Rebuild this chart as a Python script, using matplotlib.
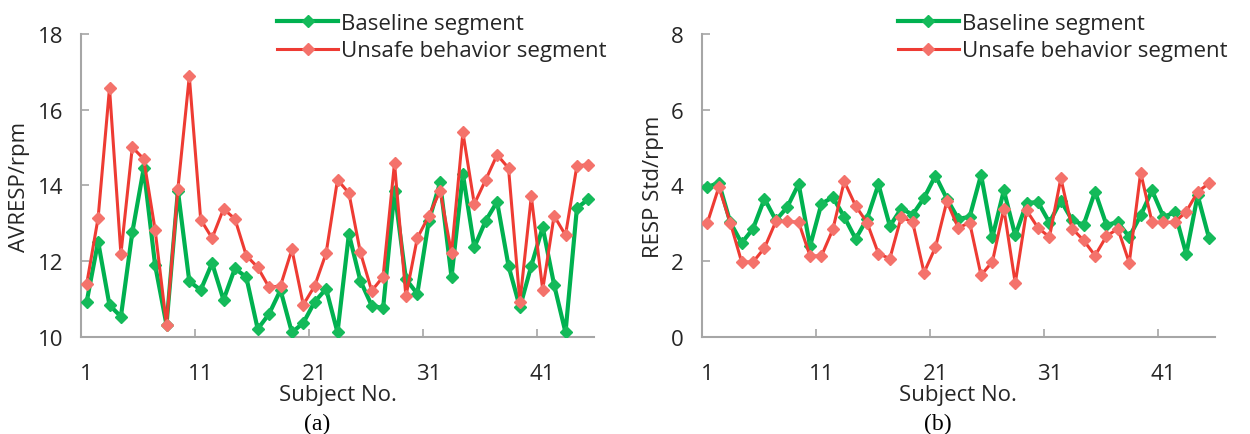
import matplotlib
matplotlib.use("Agg")
import matplotlib.pyplot as plt
import numpy as np

subjects = list(range(1, 46))

avresp_baseline = [10.93, 12.52, 10.84, 10.54, 12.76, 14.45, 11.90, 10.32, 13.86, 11.47,
                   11.24, 11.95, 10.98, 11.81, 11.58, 10.21, 10.61, 11.24, 10.12, 10.37,
                   10.93, 11.27, 10.12, 12.72, 11.49, 10.83, 10.76, 13.86, 11.53, 11.14,
                   13.05, 14.08, 11.58, 14.30, 12.37, 13.07, 13.57, 11.88, 10.78, 11.88,
                   12.90, 11.38, 10.12, 13.40, 13.64]
avresp_unsafe = [11.40, 13.14, 16.57, 12.19, 15.01, 14.70, 12.83, 10.32, 13.91, 16.88,
                 13.10, 12.61, 13.38, 13.12, 12.15, 11.84, 11.31, 11.35, 12.31, 10.85,
                 11.35, 12.21, 14.15, 13.80, 12.24, 11.22, 11.59, 14.59, 11.07, 12.61,
                 13.19, 13.86, 12.21, 15.40, 13.51, 14.15, 14.81, 14.46, 10.92, 13.71,
                 11.25, 13.20, 12.69, 14.52, 14.55]

std_baseline = [3.96, 4.07, 3.03, 2.48, 2.86, 3.65, 3.08, 3.43, 4.04, 2.40,
                3.52, 3.69, 3.17, 2.59, 3.12, 4.03, 2.93, 3.39, 3.23, 3.67,
                4.26, 3.65, 3.12, 3.17, 4.28, 2.64, 3.87, 2.68, 3.54, 3.56,
                3.02, 3.60, 3.08, 2.96, 3.84, 2.96, 3.03, 2.64, 3.21, 3.87,
                3.17, 3.29, 2.19, 3.74, 2.61]
std_unsafe = [3.02, 3.96, 3.02, 1.98, 1.98, 2.35, 3.05, 3.05, 3.03, 2.14,
              2.14, 2.84, 4.11, 3.46, 3.02, 2.20, 2.07, 3.17, 3.03, 1.70,
              2.37, 3.58, 2.88, 3.02, 1.63, 1.99, 3.39, 1.42, 3.34, 2.88,
              2.64, 4.19, 2.86, 2.55, 2.15, 2.66, 2.86, 1.96, 4.34, 3.03,
              3.03, 3.03, 3.31, 3.83, 4.06]

xtick_labels = ["1", "11", "21", "31", "41"]
series_names = ["Baseline segment", "Unsafe behavior segment"]

GREEN = "#00B150"
GREEN_MK = "#14BA5A"
RED = "#EE3B33"
RED_MK = "#F4726B"
AXIS_GRAY = "#A6A6A6"
TEXT = "#262626"

plt.rcParams["font.family"] = ["Open Sans", "DejaVu Sans"]

fig = plt.figure(figsize=(12.5, 4.35), dpi=100)
ax_a = fig.add_axes([0.0648, 0.223, 0.4104, 0.6966])
ax_b = fig.add_axes([0.5614, 0.223, 0.4104, 0.6966])


def draw_panel(ax, base, unsafe, ylim, yticks, ylabel, caption):
    ax.plot(subjects, base, color=GREEN, lw=3.0, marker="D", ms=6.5,
            mfc=GREEN_MK, mec=GREEN_MK, label=series_names[0], zorder=3)
    ax.plot(subjects, unsafe, color=RED, lw=2.2, marker="D", ms=6.5,
            mfc=RED_MK, mec=RED_MK, label=series_names[1], zorder=4)
    ax.set_xlim(0.5, 45.5)
    ax.set_ylim(*ylim)
    ax.set_yticks(yticks)
    ax.set_yticklabels([str(t) for t in yticks], fontsize=16, color=TEXT)
    ax.set_xticks([1, 11, 21, 31, 41])
    ax.set_xticklabels(xtick_labels, fontsize=16, color=TEXT)
    ax.tick_params(axis="x", length=0, pad=19)
    ax.set_xticks([10.5, 20.5, 30.5, 40.5], minor=True)
    ax.tick_params(axis="x", which="minor", direction="in", length=6,
                   color=AXIS_GRAY, width=1.2)
    ax.tick_params(axis="y", direction="in", length=6, color=AXIS_GRAY,
                   width=1.2, pad=13)
    for side in ("top", "right"):
        ax.spines[side].set_visible(False)
    for side in ("left", "bottom"):
        ax.spines[side].set_color(AXIS_GRAY)
        ax.spines[side].set_linewidth(1.5)
    ax.set_xlabel("Subject No.", fontsize=16, color=TEXT, labelpad=0)
    ax.set_ylabel(ylabel, fontsize=16, color=TEXT, labelpad=5)
    ax.text(0.46, -0.285, caption, transform=ax.transAxes, ha="center",
            va="center", fontsize=17, family=["Liberation Serif", "DejaVu Serif"],
            color="black")
    ax.legend(loc="center left", bbox_to_anchor=(0.382, 0.99), frameon=False,
              fontsize=16, handlelength=2.75, handletextpad=0.15,
              labelspacing=0.3, borderaxespad=0, borderpad=0,
              labelcolor=TEXT)


draw_panel(ax_a, avresp_baseline, avresp_unsafe, (10, 18), [10, 12, 14, 16, 18],
           "AVRESP/rpm", "(a)")
draw_panel(ax_b, std_baseline, std_unsafe, (0, 8), [0, 2, 4, 6, 8],
           "RESP Std/rpm", "(b)")

fig.savefig("out.png", dpi=100)
